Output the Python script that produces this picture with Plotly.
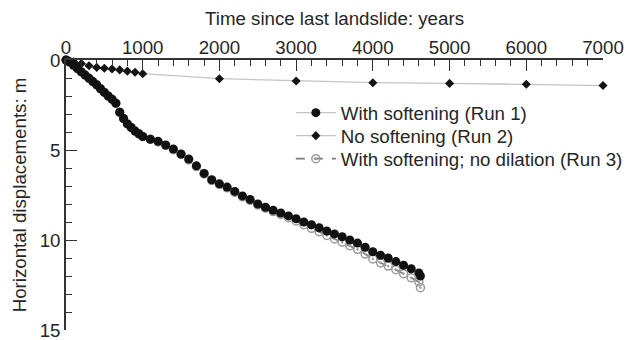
import plotly.graph_objects as go

# ---- data ----
run1_years = [0, 25, 50, 100, 150, 200, 250, 300, 350, 400, 450, 500, 550, 600, 650, 700,
              750, 800, 850, 900, 950, 1000, 1100, 1200, 1300, 1400, 1500, 1600, 1700,
              1800, 1900, 2000, 2100, 2200, 2300, 2400, 2500, 2600, 2700, 2800, 2900,
              3000, 3100, 3200, 3300, 3400, 3500, 3600, 3700, 3800, 3900, 4000, 4100,
              4200, 4300, 4400, 4500, 4600, 4620]
run1_disp = [0, 0.05, 0.12, 0.3, 0.48, 0.66, 0.84, 1.02, 1.2, 1.38, 1.6, 1.8, 2.0, 2.18,
             2.4, 2.9, 3.25, 3.55, 3.75, 3.95, 4.1, 4.25, 4.4, 4.52, 4.72, 4.95, 5.22,
             5.5, 5.88, 6.3, 6.65, 6.88, 7.06, 7.3, 7.55, 7.75, 8.0, 8.18, 8.35, 8.5,
             8.66, 8.82, 9.0, 9.15, 9.32, 9.5, 9.66, 9.82, 10.0, 10.17, 10.4, 10.65,
             10.85, 11.0, 11.2, 11.4, 11.6, 11.83, 12.0]

run2_years = [0, 100, 200, 300, 400, 500, 600, 700, 800, 900, 1000,
              2000, 3000, 4000, 5000, 6000, 7000]
run2_disp = [0, 0.1, 0.2, 0.32, 0.41, 0.46, 0.5, 0.55, 0.62, 0.68, 0.76,
             1.04, 1.17, 1.26, 1.3, 1.35, 1.42]

run3_years = run1_years
run3_disp = [0, 0.05, 0.12, 0.3, 0.48, 0.66, 0.84, 1.02, 1.2, 1.38, 1.6, 1.8, 2.0, 2.18,
             2.4, 2.9, 3.25, 3.55, 3.75, 3.95, 4.1, 4.25, 4.4, 4.55, 4.75, 4.98, 5.25,
             5.55, 5.92, 6.33, 6.7, 6.92, 7.1, 7.35, 7.6, 7.8, 8.05, 8.23, 8.42, 8.58,
             8.76, 8.94, 9.15, 9.35, 9.54, 9.75, 9.94, 10.12, 10.32, 10.52, 10.78,
             11.05, 11.27, 11.45, 11.65, 11.87, 12.1, 12.33, 12.65]

names = ["With softening (Run 1)", "No softening (Run 2)",
         "With softening; no dilation (Run 3)"]

FONT = "Liberation Sans, Arial, sans-serif"
TXT = "#262626"
FS = 18.7

fig = go.Figure()

fig.add_trace(go.Scatter(
    x=run3_years, y=run3_disp, name=names[2], mode="lines+markers", legend="legend3",
    line=dict(color="#7a7a7a", width=1.6, dash="dash"),
    marker=dict(symbol="circle-open-dot", size=8, color="#9a9a9a",
                line=dict(width=1.5)),
    cliponaxis=False))

fig.add_trace(go.Scatter(
    x=run2_years, y=run2_disp, name=names[1], mode="lines+markers", legend="legend2",
    line=dict(color="#c4c4c4", width=1.3),
    marker=dict(symbol="diamond", size=7, color="#141414"),
    cliponaxis=False))

fig.add_trace(go.Scatter(
    x=run1_years, y=run1_disp, name=names[0], mode="lines+markers", legend="legend",
    line=dict(color="#c4c4c4", width=1.3),
    marker=dict(symbol="circle", size=9, color="#111111"),
    cliponaxis=False))

def leg(yv):
    return dict(x=0.4187, y=yv, xanchor="left", yanchor="middle",
                bgcolor="rgba(0,0,0,0)", font=dict(size=FS, color=TXT),
                itemwidth=40)

# page body has an 8px margin, so the figure is sized/margined to compensate
fig.update_layout(
    width=630, height=332,
    margin=dict(l=58, r=31, t=52, b=10),
    paper_bgcolor="white", plot_bgcolor="white",
    font=dict(family=FONT, size=FS, color=TXT),
    showlegend=True,
    legend=leg(0.8037), legend2=leg(0.7185), legend3=leg(0.6333),
    xaxis=dict(
        side="top", range=[0, 7000], dtick=1000, tick0=0, automargin=False,
        showgrid=False, zeroline=False, ticklabeloverflow="allow",
        showline=True, linecolor="#333", linewidth=1.5,
        ticks="inside", ticklen=11, tickwidth=1.3, tickcolor="#333",
        ticklabelstandoff=-3,
        minor=dict(dtick=200, ticks="inside", ticklen=6, tickwidth=1.2,
                   tickcolor="#333", showgrid=False),
        title=dict(text="Time since last landslide: years", standoff=6,
                   font=dict(size=FS, color=TXT)),
        tickfont=dict(size=FS, color=TXT),
    ),
    yaxis=dict(
        range=[15, 0], dtick=5, tick0=0, automargin=False,
        showgrid=False, zeroline=False, ticklabeloverflow="allow",
        showline=True, linecolor="#333", linewidth=1.5,
        ticks="inside", ticklen=11, tickwidth=1.3, tickcolor="#333",
        minor=dict(dtick=1, ticks="inside", ticklen=6, tickwidth=1.2,
                   tickcolor="#333", showgrid=False),
        title=dict(text="Horizontal displacements: m", standoff=8,
                   font=dict(size=FS, color=TXT)),
        tickfont=dict(size=FS, color=TXT),
    ),
)

fig.write_html("out.html")
